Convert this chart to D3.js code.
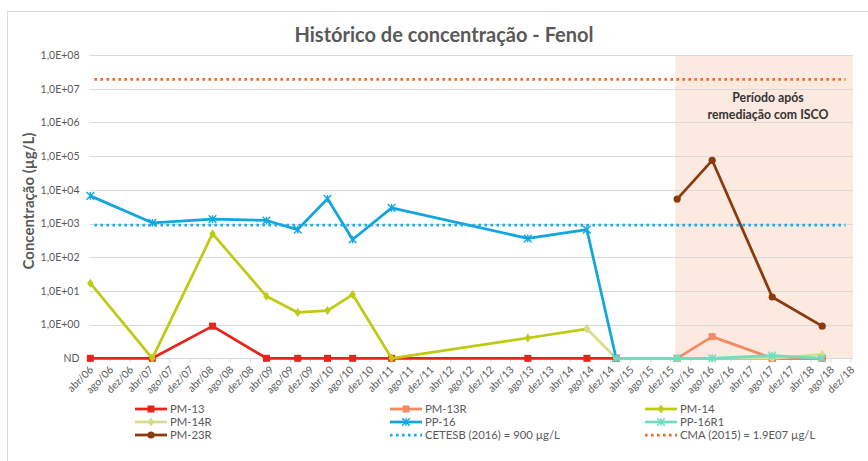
<!DOCTYPE html>
<html>
<head>
<meta charset="utf-8">
<script src="https://cdn.jsdelivr.net/npm/d3@7"></script>
<style>
  html, body { margin: 0; padding: 0; background: #fff; }
  svg { display: block; font-family: Lato, "Open Sans", sans-serif; }
</style>
</head>
<body>
<svg id="chart" width="868" height="461"></svg>
<script>
// Non-detect results are plotted at the floor of the log axis
const ND = 0.1;

// Sampling campaigns
const sampleDates = [
  "2006-04-06", "2007-04-18", "2008-04-18", "2009-03-12", "2009-09-18",
  "2010-03-18", "2010-08-18", "2011-04-12", "2013-07-18", "2014-07-12",
  "2015-01-06", "2016-01-12", "2016-08-12", "2017-08-12", "2018-06-12"
];

// Phenol concentration per well (µg/L), null = not sampled
const pm13   = [ND, ND, 0.9, ND, ND, ND, ND, ND, ND, ND, ND, null, null, ND, ND];
const pm13r  = [null, null, null, null, null, null, null, null, null, null, null, ND, 0.44, ND, ND];
const pm14   = [17, ND, 500, 6.9, 2.3, 2.6, 7.8, ND, 0.4, 0.75, null, null, null, null, null];
const pm14r  = [null, null, null, null, null, null, null, null, null, 0.75, ND, ND, ND, ND, 0.13];
const pp16   = [6600, 1050, 1350, 1230, 660, 5400, 335, 2900, 360, 660, ND, null, null, null, null];
const pp16r1 = [null, null, null, null, null, null, null, null, null, null, ND, ND, ND, 0.12, ND];
const pm23r  = [null, null, null, null, null, null, null, null, null, null, null, 5300, 75000, 6.6, 0.9];

// Reference limits
const cetesbLimit = 900;
const cmaLimit = 1.9e7;
const limitSpan = ["2006-05-01", "2018-11-01"];

// Post-remediation period
const iscoStart = "2016-01-01";

// Axis ticks
const yTickValues = [ND, 1, 10, 100, 1e3, 1e4, 1e5, 1e6, 1e7, 1e8];
const tickYears = d3.range(2006, 2019);
const tickMonths = [3, 7, 11];
const monthNames = { 3: "abr", 7: "ago", 11: "dez" };

const seriesList = [
  { name: "PM-13",   values: pm13,   color: "#E8231B", marker: "square" },
  { name: "PM-13R",  values: pm13r,  color: "#F38A64", marker: "square" },
  { name: "PM-14",   values: pm14,   color: "#BFCA12", marker: "diamond" },
  { name: "PM-14R",  values: pm14r,  color: "#D8DC8C", marker: "diamond" },
  { name: "PP-16",   values: pp16,   color: "#12A5DE", marker: "star" },
  { name: "PP-16R1", values: pp16r1, color: "#6FDDC2", marker: "star" },
  { name: "PM-23R",  values: pm23r,  color: "#8B3A0E", marker: "circle" }
];
const limitList = [
  { name: "CETESB (2016) = 900 µg/L", value: cetesbLimit, color: "#1AAEE6" },
  { name: "CMA (2015) = 1.9E07 µg/L", value: cmaLimit, color: "#EF6A22" }
];

const parse = d3.timeParse("%Y-%m-%d");
const svg = d3.select("#chart");
const textColor = "#595959";
const gridColor = "#D9D9D9";

const plot = { left: 89.5, right: 853, top: 55, bottom: 358.3 };

const x = d3.scaleTime()
  .domain([new Date(2006, 3, 1), new Date(2018, 11, 1)])
  .range([plot.left, 850.5]);
const y = d3.scaleLog()
  .domain([ND, 1e8])
  .range([plot.bottom, plot.top]);

// chart frame
svg.append("rect")
  .attr("x", 7.5).attr("y", 11.5)
  .attr("width", 900).attr("height", 500)
  .attr("fill", "none").attr("stroke", gridColor);

// title
svg.append("text")
  .attr("x", 444).attr("y", 42)
  .attr("text-anchor", "middle")
  .attr("font-size", 20).attr("font-weight", "bold")
  .attr("fill", textColor)
  .text("Histórico de concentração - Fenol");

// remediation period band
svg.append("rect")
  .attr("x", x(parse(iscoStart)))
  .attr("y", plot.top)
  .attr("width", plot.right - x(parse(iscoStart)))
  .attr("height", plot.bottom - plot.top)
  .attr("fill", "#FCE9DF");

// horizontal gridlines
svg.append("g")
  .selectAll("line")
  .data(yTickValues)
  .join("line")
  .attr("x1", plot.left).attr("x2", plot.right)
  .attr("y1", d => Math.round(y(d)) + 0.5).attr("y2", d => Math.round(y(d)) + 0.5)
  .attr("stroke", gridColor).attr("stroke-width", 1);

// y axis labels
const yAxis = d3.axisLeft(y)
  .tickValues(yTickValues)
  .tickSize(0)
  .tickPadding(10)
  .tickFormat(v => v === ND ? "ND" : "1,0E+" + String(Math.round(Math.log10(v))).padStart(2, "0"));
const gy = svg.append("g").attr("transform", `translate(${plot.left},0)`).call(yAxis);
gy.select(".domain").remove();
gy.selectAll("text")
  .attr("fill", textColor)
  .attr("font-size", 10.5)
  .attr("font-family", "Lato, sans-serif");

svg.append("text")
  .attr("transform", "translate(34,201) rotate(-90)")
  .attr("text-anchor", "middle")
  .attr("font-size", 15).attr("font-weight", "bold")
  .attr("fill", textColor)
  .text("Concentração (µg/L)");

// x axis
const xTicks = [];
tickYears.forEach(yr => tickMonths.forEach(m => xTicks.push(new Date(yr, m, 1))));
const xAxis = d3.axisBottom(x)
  .tickValues(xTicks)
  .tickSize(4)
  .tickFormat(d => monthNames[d.getMonth()] + "/" + String(d.getFullYear() % 100).padStart(2, "0"));
const gx = svg.append("g").attr("transform", `translate(0,${Math.round(plot.bottom) + 0.5})`).call(xAxis);
gx.select(".domain").remove();
gx.selectAll(".tick line").attr("stroke", gridColor);
gx.selectAll(".tick text")
  .attr("fill", textColor)
  .attr("font-size", 10.5)
  .attr("font-family", "Lato, sans-serif")
  .attr("text-anchor", "end")
  .attr("y", 0).attr("dy", 0)
  .attr("transform", "translate(4,12) rotate(-45)");

// period annotation
const note = svg.append("text")
  .attr("text-anchor", "middle")
  .attr("font-size", 12.3).attr("font-weight", "bold")
  .attr("fill", "#333333");
note.append("tspan").attr("x", 768).attr("y", 102).text("Período após");
note.append("tspan").attr("x", 768).attr("y", 119).text("remediação com ISCO");

// marker shapes
function drawMarker(g, type, color, cx, cy) {
  if (type === "square") {
    g.append("rect").attr("x", cx - 3.5).attr("y", cy - 3.5)
      .attr("width", 7).attr("height", 7).attr("fill", color);
  } else if (type === "diamond") {
    g.append("path")
      .attr("d", `M${cx},${cy - 4.5}L${cx + 3.2},${cy}L${cx},${cy + 4.5}L${cx - 3.2},${cy}Z`)
      .attr("fill", color);
  } else if (type === "circle") {
    g.append("circle").attr("cx", cx).attr("cy", cy).attr("r", 3.6).attr("fill", color);
  } else if (type === "star") {
    const s = 3.8;
    g.append("path")
      .attr("d", `M${cx - s},${cy - s}L${cx + s},${cy + s}M${cx - s},${cy + s}L${cx + s},${cy - s}M${cx},${cy - s}L${cx},${cy + s}`)
      .attr("stroke", color).attr("stroke-width", 1.4).attr("fill", "none");
  }
}

const line = d3.line()
  .x(d => x(d.date))
  .y(d => y(d.value));

const seriesLayer = svg.append("g");
seriesList.forEach(s => {
  const pts = sampleDates
    .map((d, i) => ({ date: parse(d), value: s.values[i] }))
    .filter(p => p.value !== null);
  const g = seriesLayer.append("g");
  g.append("path")
    .datum(pts)
    .attr("d", line)
    .attr("fill", "none")
    .attr("stroke", s.color)
    .attr("stroke-width", 2.75)
    .attr("stroke-linejoin", "round");
  pts.forEach(p => drawMarker(g, s.marker, s.color, x(p.date), y(p.value)));
});

// regulatory limits
limitList.forEach(l => {
  svg.append("line")
    .attr("x1", x(parse(limitSpan[0]))).attr("x2", x(parse(limitSpan[1])))
    .attr("y1", y(l.value)).attr("y2", y(l.value))
    .attr("stroke", l.color).attr("stroke-width", 2.75)
    .attr("stroke-dasharray", "2.6 3.4");
});

// legend
const legendItems = [
  ...seriesList.map(s => ({ name: s.name, color: s.color, marker: s.marker, dotted: false })),
  ...limitList.map(l => ({ name: l.name, color: l.color, marker: null, dotted: true }))
];
const legendCols = [135, 390, 645];
const legendRows = [409, 422, 435];
const legend = svg.append("g");
legendItems.forEach((item, i) => {
  const lx = legendCols[i % 3];
  const ly = legendRows[Math.floor(i / 3)];
  const g = legend.append("g");
  g.append("line")
    .attr("x1", lx).attr("x2", lx + 32)
    .attr("y1", ly).attr("y2", ly)
    .attr("stroke", item.color).attr("stroke-width", 2.75)
    .attr("stroke-dasharray", item.dotted ? "2.6 3.4" : null);
  if (item.marker) drawMarker(g, item.marker, item.color, lx + 16, ly);
  g.append("text")
    .attr("x", lx + 35).attr("y", ly + 4)
    .attr("font-size", 11.3)
    .attr("fill", textColor)
    .text(item.name);
});
</script>
</body>
</html>
